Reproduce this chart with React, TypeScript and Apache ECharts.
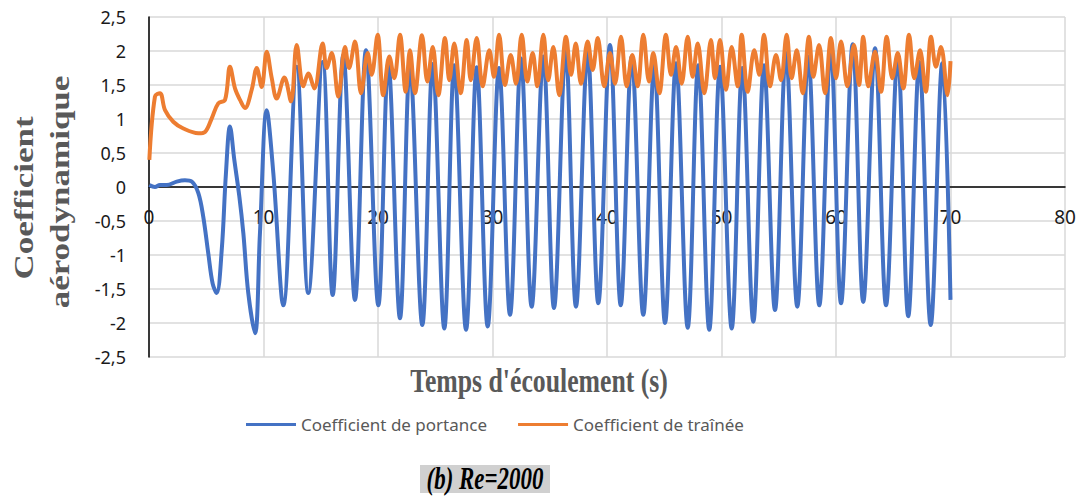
import React, { useEffect, useRef } from "react";
import * as echarts from "echarts";

// Lift coefficient (Coefficient de portance): time (s) and value
const liftT = [0.03,0.52,0.96,1.55,2.42,3.14,3.73,4.31,4.74,5.18,5.56,5.91,6.35,6.72,7.07,7.45,7.89,8.24,8.67,9.26,9.69,10.28,10.86,11.73,12.9,13.91,15.17,16.04,16.97,17.99,18.95,20.03,20.9,21.92,22.79,23.87,24.78,25.79,26.66,27.69,28.62,29.58,30.57,31.53,32.49,33.42,34.44,35.37,36.39,37.29,38.31,39.24,40.26,41.2,42.16,43.17,44.13,45.07,46.03,47.05,47.97,48.93,49.87,50.89,51.82,52.78,53.71,54.67,55.63,56.62,57.58,58.54,59.54,60.44,61.46,62.38,63.41,64.37,65.39,66.31,67.28,68.27,69.28,70.0];
const liftV = [0.03,0,0.03,0.03,0.08,0.1,0.08,-0.09,-0.44,-0.98,-1.42,-1.56,-0.93,0.2,0.89,0.4,-0.14,-0.68,-1.56,-2.15,-0.68,1.13,0.2,-1.74,1.77,-1.56,1.84,-1.59,1.94,-1.66,2.01,-1.74,1.82,-1.93,1.79,-2.03,1.81,-2.08,1.79,-2.1,1.76,-2.05,1.75,-1.88,1.89,-1.76,1.92,-1.78,2.01,-1.76,1.99,-1.71,2.09,-1.74,1.92,-1.88,1.79,-2.0,1.82,-2.07,1.79,-2.1,1.77,-2.08,1.75,-1.98,1.79,-1.81,1.97,-1.76,1.92,-1.74,2.04,-1.71,2.1,-1.69,2.04,-1.74,1.94,-1.9,1.84,-2.03,1.82,-1.66];

// Drag coefficient (Coefficient de traînée): time (s) and value
const dragT = [0.03,0.52,0.96,1.4,2.12,3.0,4.31,4.89,5.48,6.05,6.64,7.07,7.51,7.95,8.38,8.97,9.41,9.84,10.28,10.72,11.15,11.82,12.4,12.9,13.48,13.91,14.44,15.17,15.52,15.96,16.53,17.12,17.47,17.99,18.52,19.1,19.45,19.97,20.46,20.99,21.42,21.92,22.42,22.79,23.23,23.84,24.31,24.78,25.27,25.85,26.23,26.66,27.22,27.75,28.1,28.62,29.14,29.72,30.13,30.57,31.09,31.59,32.05,32.55,33.04,33.51,33.91,34.44,34.87,35.31,35.83,36.42,36.86,37.27,37.73,38.31,38.75,39.19,39.76,40.26,40.7,41.22,41.72,42.21,42.68,43.17,43.67,44.04,44.57,45.15,45.59,46.03,46.52,47.05,47.48,47.92,48.5,49.08,49.43,49.87,50.39,50.89,51.41,51.76,52.29,52.86,53.3,53.71,54.24,54.76,55.2,55.69,56.13,56.57,57.09,57.64,58.02,58.52,59.04,59.56,60.0,60.44,60.99,61.57,62.01,62.38,62.82,63.41,63.93,64.43,64.92,65.39,65.88,66.38,66.84,67.34,67.84,68.3,68.73,69.17,69.75,70.0];
const dragV = [0.4,1.33,1.38,1.13,0.96,0.86,0.79,0.81,1.01,1.23,1.28,1.77,1.45,1.28,1.16,1.43,1.75,1.47,1.99,1.6,1.3,1.61,1.26,2.09,1.48,1.67,1.45,2.11,1.75,1.97,1.33,2.06,1.75,2.14,1.38,1.97,1.65,2.24,1.35,1.92,1.6,2.24,1.4,2.01,1.38,2.23,1.55,2.06,1.35,2.19,1.57,2.11,1.38,2.16,1.57,2.19,1.48,2.01,1.62,2.24,1.5,1.94,1.52,2.24,1.55,1.97,1.48,2.24,1.57,2.06,1.35,2.21,1.65,2.11,1.52,2.14,1.72,2.19,1.48,1.97,1.52,2.21,1.48,1.94,1.48,2.24,1.55,1.97,1.38,2.24,1.65,2.06,1.52,2.21,1.62,2.11,1.38,2.16,1.6,2.16,1.43,2.06,1.48,2.24,1.4,2.01,1.65,2.24,1.48,1.94,1.57,2.24,1.6,2.01,1.38,2.21,1.62,2.09,1.38,2.19,1.6,2.14,1.48,2.09,1.5,2.21,1.48,1.99,1.4,2.21,1.6,1.97,1.45,2.24,1.6,2.01,1.4,2.21,1.77,2.06,1.35,1.85];

const seriesNames = ["Coefficient de portance", "Coefficient de traînée"];
const xTitle = "Temps d'écoulement (s)";
const yTitleLines = ["Coefficient", "aérodynamique"];
const caption = "(b) Re=2000";

export default function App() {
  const ref = useRef<HTMLDivElement>(null);
  useEffect(() => {
    if (!ref.current) return;
    const chart = echarts.init(ref.current, null, { renderer: "svg" });
    const liftData = liftT.map((t, i) => [t, liftV[i]]);
    const dragData = dragT.map((t, i) => [t, dragV[i]]);
    const serif = "'Liberation Serif', 'Times New Roman', serif";
    chart.setOption({
      animation: false,
      backgroundColor: "#ffffff",
      grid: { left: 149, right: 19, top: 17, bottom: 147, containLabel: false },
      xAxis: {
        type: "value",
        min: 0,
        max: 80,
        interval: 10,
        position: "bottom",
        offset: -170,
        axisLine: { onZero: false, lineStyle: { color: "#000", width: 1.5 } },
        axisTick: { show: false },
        axisLabel: { fontSize: 19, color: "#1a1a1a", fontFamily: "Noto Sans", margin: 20 },
        splitLine: { show: true, lineStyle: { color: "#d9d9d9", width: 1.5 } },
      },
      yAxis: {
        type: "value",
        min: -2.5,
        max: 2.5,
        interval: 0.5,
        axisLine: { show: true, onZero: false, lineStyle: { color: "#000", width: 1.5 } },
        axisTick: { show: false },
        axisLabel: {
          fontSize: 18,
          color: "#1a1a1a",
          fontFamily: "Noto Sans",
          margin: 23,
          formatter: (v: number) => String(v).replace(".", ","),
        },
        splitLine: { show: true, lineStyle: { color: "#d9d9d9", width: 1.5 } },
      },
      legend: {
        left: 241,
        top: 411,
        icon: "rect",
        itemWidth: 50,
        itemHeight: 3,
        itemGap: 31,
        textStyle: { fontSize: 17, color: "#595959", fontFamily: "Noto Sans" },
        data: seriesNames,
      },
      series: [
        {
          name: seriesNames[0],
          type: "line",
          data: liftData,
          showSymbol: false,
          smooth: 0.36,
          color: "#4472C4",
          lineStyle: { color: "#4472C4", width: 4 },
          itemStyle: { color: "#4472C4" },
        },
        {
          name: seriesNames[1],
          type: "line",
          data: dragData,
          showSymbol: false,
          smooth: 0.36,
          color: "#ED7D31",
          lineStyle: { color: "#ED7D31", width: 4 },
          itemStyle: { color: "#ED7D31" },
        },
      ],
      graphic: [
        {
          type: "text",
          x: 539,
          y: 381,
          scaleX: 0.78,
          style: {
            text: xTitle,
            fill: "#595959",
            fontSize: 33,
            fontWeight: "bold",
            fontFamily: serif,
            textAlign: "center",
            textVerticalAlign: "middle",
          },
        },
        {
          type: "text",
          x: 24,
          y: 198,
          rotation: Math.PI / 2,
          scaleY: 0.8,
          style: {
            text: yTitleLines[0],
            fill: "#595959",
            fontSize: 35,
            fontWeight: "bold",
            fontFamily: serif,
            textAlign: "center",
            textVerticalAlign: "middle",
          },
        },
        {
          type: "text",
          x: 60,
          y: 192,
          rotation: Math.PI / 2,
          scaleY: 0.8,
          style: {
            text: yTitleLines[1],
            fill: "#595959",
            fontSize: 35,
            fontWeight: "bold",
            fontFamily: serif,
            textAlign: "center",
            textVerticalAlign: "middle",
          },
        },
        {
          type: "rect",
          shape: { x: 420, y: 465, width: 130, height: 28 },
          style: { fill: "#d0d0d0" },
        },
        {
          type: "text",
          x: 485,
          y: 479,
          scaleX: 0.74,
          style: {
            text: caption,
            fill: "#000",
            fontSize: 31,
            fontWeight: "bold",
            fontStyle: "italic",
            fontFamily: serif,
            textAlign: "center",
            textVerticalAlign: "middle",
          },
        },
      ],
    });
    return () => chart.dispose();
  }, []);
  return (
    <div
      ref={ref}
      style={{ position: "fixed", left: 0, top: 0, width: 1084, height: 504, background: "#fff" }}
    />
  );
}
